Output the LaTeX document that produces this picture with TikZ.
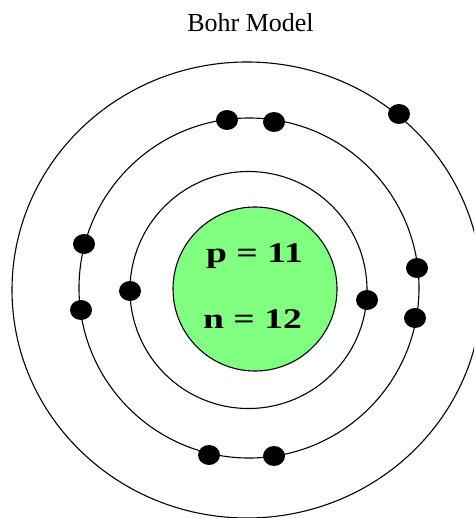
\documentclass[tikz,border=0pt]{standalone}
\usepackage{fontspec}
\setmainfont{Liberation Serif}
\usetikzlibrary{shapes.geometric}
\definecolor{nucgreen}{RGB}{128,255,128}
\tikzset{
  shell/.style={draw=black, line width=1.1pt, circle, inner sep=0pt},
  electron/.style={fill=black, draw=none, ellipse, minimum width=22pt, minimum height=20pt, inner sep=0pt},
  nuctext/.style={anchor=base, inner sep=0pt, font=\bfseries\fontsize{28.5}{28.5}\selectfont},
}
\begin{document}
\begin{tikzpicture}[x=1pt, y=-1pt]
\useasboundingbox (0,0) rectangle (474,518);
\begin{scope}
\clip (0,0) rectangle (474,518);
% title
\node[anchor=base, inner sep=0pt, font=\fontsize{26}{26}\selectfont] (title) at (250.5,32) {Bohr Model};
% shells
\node[shell, ellipse, minimum width=470pt, minimum height=456pt] (shell3) at (247,290) {};
\node[shell, minimum size=340pt] (shell2) at (249,288) {};
\node[shell, minimum size=237pt] (shell1) at (248.5,290) {};
% nucleus
\node[shell, fill=nucgreen, minimum size=164pt] (nucleus) at (255,289) {};
\node[nuctext] (ptext) at (254.5,262) {\scalebox{1.32}[1]{p = 11}};
\node[nuctext] (ntext) at (252.5,328) {\scalebox{1.32}[1]{n = 12}};
% electrons, shell 1
\node[electron] (e1) at (130,291) {};
\node[electron] (e2) at (367,300) {};
% shell 2
\node[electron] (e3) at (227,120) {};
\node[electron] (e4) at (274,122) {};
\node[electron] (e5) at (84,244) {};
\node[electron] (e6) at (81,310) {};
\node[electron] (e7) at (417,268) {};
\node[electron] (e8) at (415,318) {};
\node[electron] (e9) at (209,455) {};
\node[electron] (e10) at (274,456) {};
% shell 3
\node[electron] (e11) at (399,114) {};
\end{scope}
\end{tikzpicture}
\end{document}
